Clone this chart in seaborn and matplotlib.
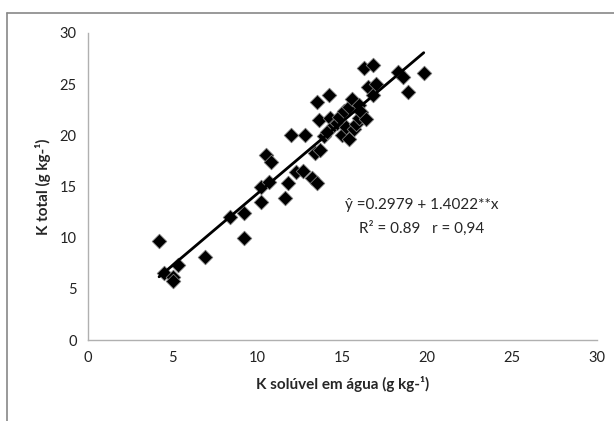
import numpy as np
import pandas as pd
import matplotlib.pyplot as plt
import seaborn as sns
from matplotlib.lines import Line2D

# K soluvel em agua vs K total (g kg-1)
k_soluvel = [4.2, 4.5, 5.0, 5.0, 5.3, 6.9, 8.4, 9.2, 9.2, 10.2, 10.2, 10.5, 10.8,
             10.7, 11.6, 11.8, 12.0, 12.3, 12.7, 12.8, 13.2, 13.4, 13.5, 13.5,
             13.6, 13.7, 13.9, 14.1, 14.2, 14.3, 14.5, 14.7, 14.8, 15.0, 15.1,
             15.2, 15.4, 15.4, 15.6, 15.7, 15.8, 16.0, 16.0, 16.1, 16.3, 16.4,
             16.5, 16.8, 16.8, 17.0, 18.3, 18.6, 18.9, 19.8]
k_total = [9.7, 6.6, 6.2, 5.8, 7.3, 8.1, 12.0, 12.4, 10.0, 13.5, 15.0, 18.1, 17.4,
           15.4, 13.9, 15.3, 20.0, 16.4, 16.5, 20.0, 15.8, 18.3, 15.3, 23.2,
           21.5, 18.6, 19.9, 20.3, 23.9, 21.7, 21.0, 21.2, 21.8, 20.0, 22.4,
           20.8, 19.6, 22.8, 23.5, 20.6, 21.1, 21.7, 23.0, 22.3, 26.6, 21.6,
           24.7, 26.9, 23.9, 25.0, 26.2, 25.7, 24.2, 26.1]

intercept = 0.2979
slope = 1.4022

df = pd.DataFrame({'x': k_soluvel, 'y': k_total})
x_fit = np.array([min(k_soluvel), max(k_soluvel)])
fit = pd.DataFrame({'x': x_fit, 'y': intercept + slope * x_fit})

sns.set_style("white")
plt.rcParams['font.family'] = ['Lato', 'DejaVu Sans']

fig = plt.figure(figsize=(6.14, 4.21), dpi=100)
ax = fig.add_axes([0.143, 0.192, 0.829, 0.730])

sns.lineplot(data=fit, x='x', y='y', color='black', linewidth=2, ax=ax, zorder=3)
sns.scatterplot(data=df, x='x', y='y', marker='D', s=55, color='black',
                edgecolor='#777777', linewidth=0.6, ax=ax, zorder=2)

ax.set_xlim(0, 30)
ax.set_ylim(0, 30)
ax.set_xticks(range(0, 31, 5))
ax.set_yticks(range(0, 31, 5))
ax.tick_params(labelsize=10.5, colors='#222222', length=0, pad=8)
for s in ['top', 'right']:
    ax.spines[s].set_visible(False)
for s in ['left', 'bottom']:
    ax.spines[s].set_color('#b0b0b0')
    ax.spines[s].set_linewidth(1)

ax.set_xlabel("K solúvel em água (g kg-¹)", fontsize=11, fontweight='bold', labelpad=8)
ax.set_ylabel("K total (g kg-¹)", fontsize=11, fontweight='bold', labelpad=6)

ax.text(19.7, 13.2, "ŷ =0.2979 + 1.4022**x", fontsize=11, ha='center', va='center')
ax.text(19.7, 10.9, "R² = 0.89   r = 0,94", fontsize=11, ha='center', va='center')

# outer chart frame (left and top only visible)
fig.add_artist(Line2D([7/614, 7/614], [0, 1 - 13/421], color='#888888', lw=1.2))
fig.add_artist(Line2D([7/614, 1], [1 - 13/421, 1 - 13/421], color='#888888', lw=1.2))

plt.savefig("out.png", dpi=100)
